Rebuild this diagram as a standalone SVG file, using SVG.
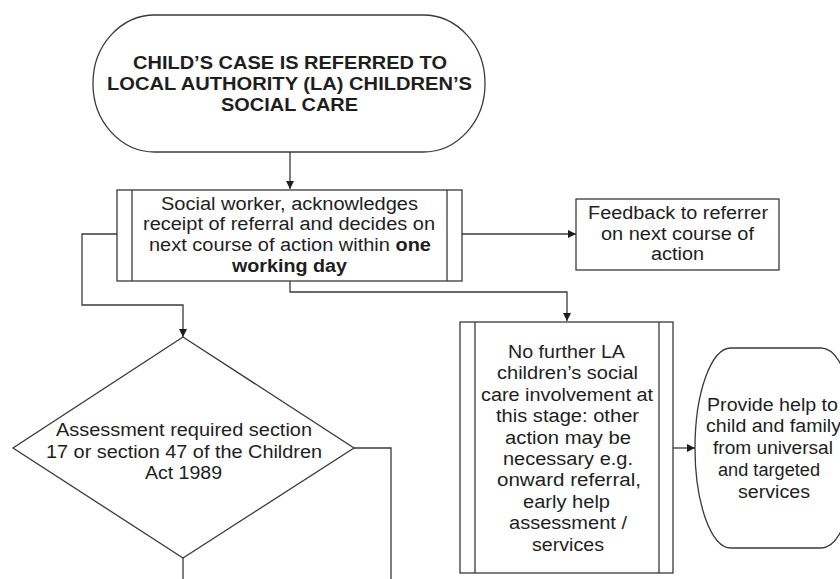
<svg xmlns="http://www.w3.org/2000/svg" width="840" height="579" viewBox="0 0 840 579">
<style>
.shape{fill:#fff;stroke:#3a3a3a;stroke-width:1.3}
.conn{fill:none;stroke:#3a3a3a;stroke-width:1.3}
text{font-family:"Liberation Sans",Arial,sans-serif;font-size:18px;fill:#1e1e1e;text-anchor:middle}
.b{font-weight:bold}
</style>
<defs>
<marker id="arr" markerUnits="userSpaceOnUse" markerWidth="9" markerHeight="8" refX="8" refY="4" orient="auto">
<path d="M0,0 L8,4 L0,8 z" fill="#1e1e1e"/>
</marker>
</defs>
<g id="connectors">
<path class="conn" d="M290,152 V189" marker-end="url(#arr)"/>
<path class="conn" d="M117,234 H82 V305 H183 V337" marker-end="url(#arr)"/>
<path class="conn" d="M290,281 V292 H567 V321" marker-end="url(#arr)"/>
<path class="conn" d="M462,234 H576" marker-end="url(#arr)"/>
<path class="conn" d="M673,448 H695" marker-end="url(#arr)"/>
<path class="conn" d="M354,448 H391 V579"/>
<path class="conn" d="M183,558 V579"/>
</g>
<g id="start">
<rect class="shape" x="93" y="15" width="392" height="137" rx="62" ry="68"/>
<text class="b" x="290" y="68.5" textLength="314" lengthAdjust="spacingAndGlyphs">CHILD’S CASE IS REFERRED TO</text>
<text class="b" x="289.5" y="89.5" textLength="365" lengthAdjust="spacingAndGlyphs">LOCAL AUTHORITY (LA) CHILDREN’S</text>
<text class="b" x="289.5" y="110.5" textLength="137" lengthAdjust="spacingAndGlyphs">SOCIAL CARE</text>
</g>
<g id="social-worker">
<rect class="shape" x="117" y="190" width="345" height="91"/>
<line class="conn" x1="132" y1="190" x2="132" y2="281"/>
<line class="conn" x1="447" y1="190" x2="447" y2="281"/>
<text x="289.5" y="209.5" textLength="257" lengthAdjust="spacingAndGlyphs">Social worker, acknowledges</text>
<text x="289" y="230.3" textLength="292" lengthAdjust="spacingAndGlyphs">receipt of referral and decides on</text>
<text x="290" y="251" textLength="282" lengthAdjust="spacingAndGlyphs">next course of action within <tspan class="b">one</tspan></text>
<text class="b" x="289.5" y="271.7" textLength="115" lengthAdjust="spacingAndGlyphs">working day</text>
</g>
<g id="feedback">
<rect class="shape" x="576" y="199" width="203" height="71"/>
<text x="678" y="219" textLength="180" lengthAdjust="spacingAndGlyphs">Feedback to referrer</text>
<text x="677.5" y="239.5" textLength="153" lengthAdjust="spacingAndGlyphs">on next course of</text>
<text x="677.5" y="260" textLength="53" lengthAdjust="spacingAndGlyphs">action</text>
</g>
<g id="no-further">
<rect class="shape" x="460" y="322" width="213" height="251"/>
<line class="conn" x1="475" y1="322" x2="475" y2="573"/>
<line class="conn" x1="659" y1="322" x2="659" y2="573"/>
<text x="566.5" y="358" textLength="117" lengthAdjust="spacingAndGlyphs">No further LA</text>
<text x="567.5" y="379.4" textLength="141" lengthAdjust="spacingAndGlyphs">children’s social</text>
<text x="567" y="400.8" textLength="172" lengthAdjust="spacingAndGlyphs">care involvement at</text>
<text x="567.5" y="422.2" textLength="143" lengthAdjust="spacingAndGlyphs">this stage: other</text>
<text x="568" y="443.6" textLength="126" lengthAdjust="spacingAndGlyphs">action may be</text>
<text x="568" y="465" textLength="130" lengthAdjust="spacingAndGlyphs">necessary e.g.</text>
<text x="569" y="486.4" textLength="144" lengthAdjust="spacingAndGlyphs">onward referral,</text>
<text x="566.5" y="507.8" textLength="87" lengthAdjust="spacingAndGlyphs">early help</text>
<text x="568" y="529.2" textLength="118" lengthAdjust="spacingAndGlyphs">assessment /</text>
<text x="568" y="550.6" textLength="72" lengthAdjust="spacingAndGlyphs">services</text>
</g>
<g id="provide-help">
<rect class="shape" x="695" y="348" width="162" height="200" rx="36" ry="100"/>
<text x="772.5" y="410.5" textLength="131" lengthAdjust="spacingAndGlyphs">Provide help to</text>
<text x="773.5" y="432" textLength="135" lengthAdjust="spacingAndGlyphs">child and family</text>
<text x="773" y="454" textLength="120" lengthAdjust="spacingAndGlyphs">from universal</text>
<text x="769" y="475.5" textLength="102" lengthAdjust="spacingAndGlyphs">and targeted</text>
<text x="774" y="497.5" textLength="72" lengthAdjust="spacingAndGlyphs">services</text>
</g>
<g id="assessment">
<polygon class="shape" points="183,337 354,448 183,558 13,448"/>
<text x="184" y="436" textLength="256" lengthAdjust="spacingAndGlyphs">Assessment required section</text>
<text x="184" y="457.5" textLength="276" lengthAdjust="spacingAndGlyphs">17 or section 47 of the Children</text>
<text x="183.5" y="479" textLength="77" lengthAdjust="spacingAndGlyphs">Act 1989</text>
</g>
</svg>
